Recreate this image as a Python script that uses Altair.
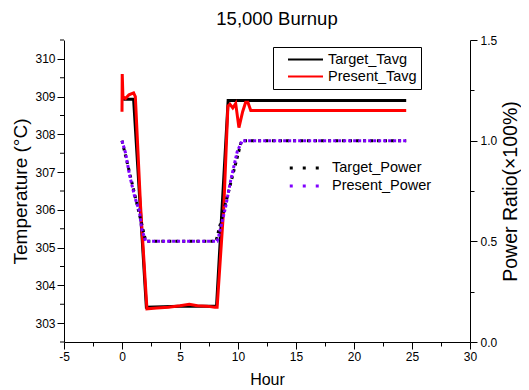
import altair as alt
import pandas as pd

# ---- data ----
hours_target_tavg = [0.1, 1.0, 2.1, 5.0, 8.15, 9.15, 24.5]
target_tavg = [308.93, 308.93, 303.42, 303.45, 303.45, 308.9, 308.9]

hours_present_tavg = [0.0, 0.02, 0.08, 0.3, 0.6, 1.0, 1.15, 1.6, 2.15, 3.0, 4.0, 5.0, 5.8,
                      6.5, 7.3, 8.0, 8.2, 8.78, 9.13, 9.3, 9.55, 9.8, 10.08, 10.4, 10.66,
                      10.85, 11.1, 24.5]
present_tavg = [308.6, 309.6, 309.0, 308.95, 309.05, 309.1, 309.0, 306.1, 303.38, 303.4,
                303.42, 303.46, 303.5, 303.46, 303.45, 303.42, 303.42, 306.1, 308.75,
                308.8, 308.7, 308.82, 308.18, 308.6, 308.85, 308.85, 308.63, 308.63]

hours_target_power = [0.0, 2.05, 8.1, 10.3, 24.5]
target_power = [1.0, 0.5, 0.5, 1.0, 1.0]

hours_present_power = [0.0, 0.3, 0.65, 1.1, 1.5, 1.7, 2.05, 8.2, 8.35, 8.93, 9.36, 9.93,
                       10.36, 24.5]
present_power = [1.0, 0.94, 0.83, 0.72, 0.65, 0.56, 0.5, 0.5, 0.53, 0.67, 0.80, 0.945,
                 1.0, 1.0]

x_tick_values = [-5, -2.5, 0, 2.5, 5, 7.5, 10, 12.5, 15, 17.5, 20, 22.5, 25, 27.5, 30]
t_major_ticks = [303, 304, 305, 306, 307, 308, 309, 310]
t_minor_ticks = [302.5, 303.5, 304.5, 305.5, 306.5, 307.5, 308.5, 309.5, 310.5]
p_tick_values = [0, 0.25, 0.5, 0.75, 1.0, 1.25, 1.5]

tavg_names = ["Target_Tavg", "Present_Tavg"]
tavg_colors = ["#000000", "#ff0000"]
power_names = ["Target_Power", "Present_Power"]
power_colors = ["#000000", "#8000ff"]

FONT = "Liberation Sans, Arial, sans-serif"

x_scale = alt.Scale(domain=[-5, 30], nice=False, zero=False)
t_scale = alt.Scale(domain=[302.5, 310.5], nice=False, zero=False)
p_scale = alt.Scale(domain=[0, 1.5], nice=False, zero=False)

MAJOR_X = "abs(datum.value / 5 - round(datum.value / 5)) < 0.001"
MAJOR_P = "abs(datum.value * 2 - round(datum.value * 2)) < 0.001"


def cond(test, major, minor):
    return {"condition": {"test": test, "value": major}, "value": minor}


x_axis = alt.Axis(values=x_tick_values, title="Hour", format="d",
                  labelExpr=MAJOR_X + " ? replace(datum.label, '\u2212', '-') : ''",
                  tickSize=cond(MAJOR_X, 7, 4), labelFontSize=12,
                  titleFontSize=16, labelPadding=2, titlePadding=9,
                  labelFlush=False, labelOverlap=False)
t_axis = alt.Axis(values=t_major_ticks, title="Temperature (°C)", format="d",
                  tickSize=7, labelFontSize=12, titleFontSize=19,
                  labelPadding=2, titlePadding=4, labelFlush=False, labelOverlap=False)
p_axis = alt.Axis(values=p_tick_values, title="Power Ratio(×100%)", orient="right", format=".1f",
                  labelExpr=MAJOR_P + " ? datum.label : ''",
                  tickSize=cond(MAJOR_P, 7, 4), labelFontSize=12,
                  titleFontSize=19.5, titleAngle=270, titleBaseline="top",
                  labelPadding=3, titlePadding=5, labelFlush=False, labelOverlap=False)

tavg_legend = alt.Legend(title=None, orient="none", legendX=209, legendY=7,
                         strokeColor="black", padding=4, symbolType="stroke",
                         symbolSize=1225, symbolStrokeWidth=2, symbolOffset=10,
                         labelOffset=4, labelFontSize=14.5, clipHeight=17,
                         rowPadding=0, labelColor="black")
power_legend = alt.Legend(title=None, orient="none", legendX=224, legendY=119,
                          padding=0, symbolType="stroke", symbolSize=870,
                          symbolStrokeWidth=3, symbolDash=[3, 10], labelOffset=11,
                          labelFontSize=14.5, clipHeight=18, rowPadding=0,
                          labelColor="black")

tavg_color_scale = alt.Scale(domain=tavg_names, range=tavg_colors)
power_color_scale = alt.Scale(domain=power_names, range=power_colors)


def frame(hours, values, name):
    return pd.DataFrame({"hour": hours, "value": values, "series": name})


def series_line(hours, values, name, y_scale, y_axis, c_scale, legend, **mark):
    return alt.Chart(frame(hours, values, name)).mark_line(strokeWidth=3, **mark).encode(
        x=alt.X("hour:Q", scale=x_scale, axis=x_axis),
        y=alt.Y("value:Q", scale=y_scale, axis=y_axis),
        color=alt.Color("series:N", scale=c_scale, legend=legend),
    )


l_target_tavg = series_line(hours_target_tavg, target_tavg, tavg_names[0],
                            t_scale, t_axis, tavg_color_scale, tavg_legend)
l_present_tavg = series_line(hours_present_tavg, present_tavg, tavg_names[1],
                             t_scale, t_axis, tavg_color_scale, tavg_legend)
# minor ticks of the temperature axis, placed through the temperature scale
t_minor = alt.Chart(pd.DataFrame({"value": t_minor_ticks})).mark_rule(
    color="black", strokeWidth=1).encode(
    y=alt.Y("value:Q", scale=t_scale, axis=t_axis),
    x=alt.value(-4), x2=alt.value(0),
)
l_target_power = series_line(hours_target_power, target_power, power_names[0],
                             p_scale, p_axis, power_color_scale, power_legend,
                             strokeDash=[3, 4])
l_present_power = series_line(hours_present_power, present_power, power_names[1],
                              p_scale, p_axis, power_color_scale, power_legend,
                              strokeDash=[3, 2])

tavg_layer = alt.layer(t_minor, l_target_tavg, l_present_tavg)
power_layer = alt.layer(l_target_power, l_present_power)

chart = alt.layer(tavg_layer, power_layer).resolve_scale(
    y="independent", color="independent"
).properties(
    width=406, height=302,
    autosize=alt.AutoSizeParams(type="none"),
    padding={"left": 56, "top": 32, "right": 51, "bottom": 48},
    title=alt.TitleParams("15,000 Burnup", fontSize=18.5, fontWeight="normal",
                          color="black", frame="group", dx=10, offset=6),
).configure(font=FONT).configure_view(stroke=None).configure_axis(
    domainColor="black", tickColor="black", labelColor="black", titleColor="black",
    grid=False, titleFontWeight="normal", domainWidth=1, tickWidth=1
)

chart.save("out.html", embed_options={"renderer": "svg", "actions": False})
